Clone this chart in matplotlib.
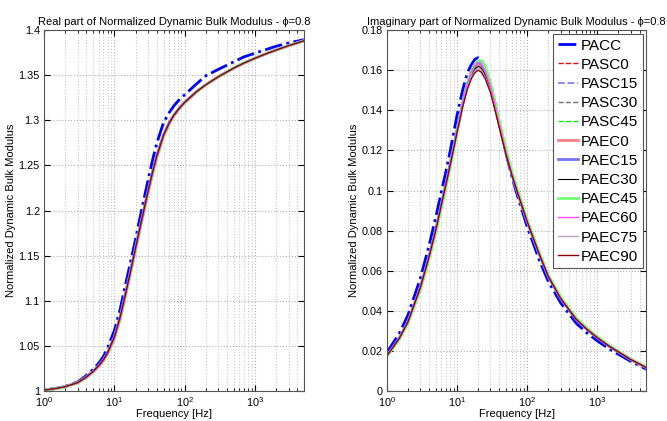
import numpy as np
import matplotlib
matplotlib.use("Agg")
import matplotlib.pyplot as plt
from matplotlib.ticker import LogLocator, NullFormatter, FixedLocator

plt.rcParams['font.family'] = ['Liberation Sans', 'DejaVu Sans']
plt.rcParams['mathtext.fontset'] = 'custom'
plt.rcParams['mathtext.rm'] = 'Liberation Sans'

# =========================
# Data
# =========================
freq = [1, 1.5, 2, 3, 4, 5, 6, 7, 8, 10, 12, 14, 16, 18, 20, 22, 25, 30, 35, 40,
        50, 60, 70, 85, 100, 150, 200, 300, 500, 700, 1000, 1500, 2000, 3000, 5000]

# real part
real_pacc = [1.001, 1.003, 1.0052, 1.0099, 1.0172, 1.0240, 1.0309, 1.0384, 1.0477, 1.0670,
             1.0895, 1.1137, 1.1339, 1.1520, 1.1680, 1.1840, 1.2045, 1.2331, 1.2563, 1.2745,
             1.2975, 1.3085, 1.3160, 1.3235, 1.3285, 1.3410, 1.3495, 1.3565, 1.3650, 1.3705,
             1.3745, 1.3790, 1.3822, 1.3858, 1.3895]
real_main = [1.001, 1.0028, 1.0048, 1.0092, 1.0155, 1.0218, 1.0281, 1.0348, 1.0423, 1.0598,
             1.0811, 1.1032, 1.1235, 1.1419, 1.1585, 1.1733, 1.1930, 1.2207, 1.2428, 1.2602,
             1.2835, 1.2969, 1.3056, 1.3140, 1.3200, 1.3323, 1.3395, 1.3483, 1.3580, 1.3636,
             1.3689, 1.3744, 1.3780, 1.3828, 1.3883]
real_lag = [1.001, 1.0026, 1.0045, 1.0087, 1.0147, 1.0208, 1.0269, 1.0333, 1.0405, 1.0576,
            1.0783, 1.1002, 1.1205, 1.1389, 1.1555, 1.1703, 1.1900, 1.2177, 1.2400, 1.2577,
            1.2815, 1.2954, 1.3044, 1.3130, 1.3192, 1.3317, 1.3395, 1.3483, 1.3580, 1.3636,
            1.3689, 1.3744, 1.3780, 1.3828, 1.3883]

# imaginary part
imag_pacc = [0.0192, 0.0287, 0.0379, 0.0562, 0.0727, 0.0870, 0.0995, 0.1100, 0.1198, 0.1375,
             0.1500, 0.1587, 0.1628, 0.1655, 0.1663, 0.1652, 0.1615, 0.1530, 0.1430, 0.1337,
             0.1185, 0.1075, 0.0993, 0.0898, 0.0820, 0.0650, 0.0547, 0.0440, 0.0338, 0.0292,
             0.0250, 0.0208, 0.0183, 0.0148, 0.0109]
imag_green = [0.0172, 0.0257, 0.0338, 0.0505, 0.0658, 0.0792, 0.0916, 0.1022, 0.1118, 0.1290,
              0.1428, 0.1530, 0.1594, 0.1630, 0.1647, 0.1648, 0.1622, 0.1535, 0.1438, 0.1350,
              0.1205, 0.1100, 0.1023, 0.0930, 0.0854, 0.0687, 0.0578, 0.0470, 0.0364, 0.0315,
              0.0270, 0.0226, 0.0198, 0.0160, 0.0119]
imag_164 = [0.0175, 0.0262, 0.0345, 0.0515, 0.0670, 0.0805, 0.0930, 0.1035, 0.1133, 0.1301,
            0.1435, 0.1532, 0.1592, 0.1626, 0.1640, 0.1632, 0.1599, 0.1521, 0.1423, 0.1335,
            0.1191, 0.1088, 0.1011, 0.0920, 0.0845, 0.0680, 0.0572, 0.0462, 0.0358, 0.0310,
            0.0266, 0.0222, 0.0195, 0.0157, 0.0117]
imag_163 = [0.0175, 0.0262, 0.0345, 0.0515, 0.0670, 0.0805, 0.0930, 0.1035, 0.1132, 0.1298,
            0.1430, 0.1525, 0.1584, 0.1617, 0.1630, 0.1622, 0.1590, 0.1513, 0.1417, 0.1330,
            0.1188, 0.1087, 0.1010, 0.0920, 0.0845, 0.0680, 0.0572, 0.0462, 0.0358, 0.0310,
            0.0266, 0.0222, 0.0195, 0.0157, 0.0117]
imag_162 = [0.0175, 0.0262, 0.0345, 0.0515, 0.0670, 0.0805, 0.0930, 0.1035, 0.1130, 0.1295,
            0.1425, 0.1518, 0.1575, 0.1607, 0.1620, 0.1612, 0.1580, 0.1505, 0.1410, 0.1325,
            0.1185, 0.1085, 0.1010, 0.0920, 0.0845, 0.0680, 0.0572, 0.0462, 0.0358, 0.0310,
            0.0266, 0.0222, 0.0195, 0.0157, 0.0117]
imag_161 = [0.0175, 0.0262, 0.0345, 0.0515, 0.0670, 0.0805, 0.0930, 0.1035, 0.1128, 0.1292,
            0.1420, 0.1511, 0.1566, 0.1597, 0.1610, 0.1602, 0.1570, 0.1497, 0.1403, 0.1320,
            0.1182, 0.1083, 0.1010, 0.0920, 0.0845, 0.0680, 0.0572, 0.0462, 0.0358, 0.0310,
            0.0266, 0.0222, 0.0195, 0.0157, 0.0117]
imag_160 = [0.0175, 0.0262, 0.0345, 0.0515, 0.0670, 0.0805, 0.0930, 0.1035, 0.1127, 0.1289,
            0.1415, 0.1504, 0.1558, 0.1588, 0.1600, 0.1592, 0.1561, 0.1489, 0.1397, 0.1315,
            0.1179, 0.1082, 0.1009, 0.0920, 0.0845, 0.0680, 0.0572, 0.0462, 0.0358, 0.0310,
            0.0266, 0.0222, 0.0195, 0.0157, 0.0117]

labels = ['PACC', 'PASC0', 'PASC15', 'PASC30', 'PASC45', 'PAEC0', 'PAEC15',
          'PAEC30', 'PAEC45', 'PAEC60', 'PAEC75', 'PAEC90']
real_series = [real_pacc, real_main, real_main, real_main, real_lag, real_main, real_main,
               real_main, real_lag, real_lag, real_main, real_main]
imag_series = [imag_pacc, imag_163, imag_164, imag_162, imag_green, imag_163, imag_164,
               imag_162, imag_green, imag_164, imag_161, imag_160]

# line styles (MATLAB look)
styles = [
    dict(color=(0, 0, 1), ls='-.', lw=2.0),
    dict(color=(1, 0, 0), ls='--', lw=1.0),
    dict(color=(0.5, 0.5, 1), ls='--', lw=1.3),
    dict(color=(0.45, 0.45, 0.45), ls='--', lw=1.0),
    dict(color=(0, 0.95, 0), ls='--', lw=1.0),
    dict(color=(1, 0.5, 0.5), ls='-', lw=2.0),
    dict(color=(0.45, 0.45, 1), ls='-', lw=2.0),
    dict(color=(0, 0, 0), ls='-', lw=0.8),
    dict(color=(0.45, 1, 0.45), ls='-', lw=2.0),
    dict(color=(1, 0.3, 1), ls='-', lw=1.0),
    dict(color=(0.75, 0.65, 0.75), ls='-', lw=1.0),
    dict(color=(0.55, 0, 0), ls='-', lw=1.0),
]

# =========================
# Plot
# =========================
fig = plt.figure(figsize=(6.67, 4.21), dpi=100)
ax1 = fig.add_axes([0.066, 0.0713, 0.390, 0.857])
ax2 = fig.add_axes([0.580, 0.0713, 0.389, 0.857])

for ax, data in [(ax1, real_series), (ax2, imag_series)]:
    for lab, vals, st in zip(labels, data, styles):
        ax.plot(freq, vals, label=lab, **st)
    ax.set_xscale('log')
    ax.set_xlim(1, 5000)
    ax.xaxis.set_major_locator(LogLocator(base=10, numticks=10))
    ax.xaxis.set_minor_locator(LogLocator(base=10, subs=np.arange(2, 10), numticks=10))
    ax.xaxis.set_minor_formatter(NullFormatter())
    ax.grid(True, which='major', ls=':', color='#b0b0b0', lw=0.8)
    ax.grid(True, which='minor', axis='x', ls=':', color='#c8c8c8', lw=0.8)
    ax.tick_params(which='both', direction='in', top=True, right=True, labelsize=7.8, pad=3)
    ax.tick_params(which='major', length=4)
    ax.tick_params(which='minor', length=2)
    for sp in ax.spines.values():
        sp.set_color('#555555')
        sp.set_linewidth(0.8)
    ax.set_xlabel('Frequency [Hz]', fontsize=8, labelpad=0)
    ax.set_ylabel('Normalized Dynamic Bulk Modulus', fontsize=8, labelpad=2)

ax1.set_ylim(1, 1.4)
ax1.yaxis.set_major_locator(FixedLocator([1, 1.05, 1.1, 1.15, 1.2, 1.25, 1.3, 1.35, 1.4]))
ax1.set_yticklabels(['1', '1.05', '1.1', '1.15', '1.2', '1.25', '1.3', '1.35', '1.4'])
ax1.set_title('Real part of Normalized Dynamic Bulk Modulus - \u03d5=0.8', fontsize=8, pad=4)

ax2.set_ylim(0, 0.18)
ax2.yaxis.set_major_locator(FixedLocator([0, 0.02, 0.04, 0.06, 0.08, 0.1, 0.12, 0.14, 0.16, 0.18]))
ax2.set_yticklabels(['0', '0.02', '0.04', '0.06', '0.08', '0.1', '0.12', '0.14', '0.16', '0.18'])
ax2.set_title('Imaginary part of Normalized Dynamic Bulk Modulus - \u03d5=0.8', fontsize=8, pad=4)

leg = ax2.legend(loc='upper right', fontsize=11, handlelength=1.35, handletextpad=0.15,
                 labelspacing=0.34, borderpad=0.3, borderaxespad=0.25, fancybox=False,
                 framealpha=1)
leg.get_frame().set_edgecolor('#555555')
leg.get_frame().set_linewidth(0.8)

plt.savefig('out.png', dpi=100)
